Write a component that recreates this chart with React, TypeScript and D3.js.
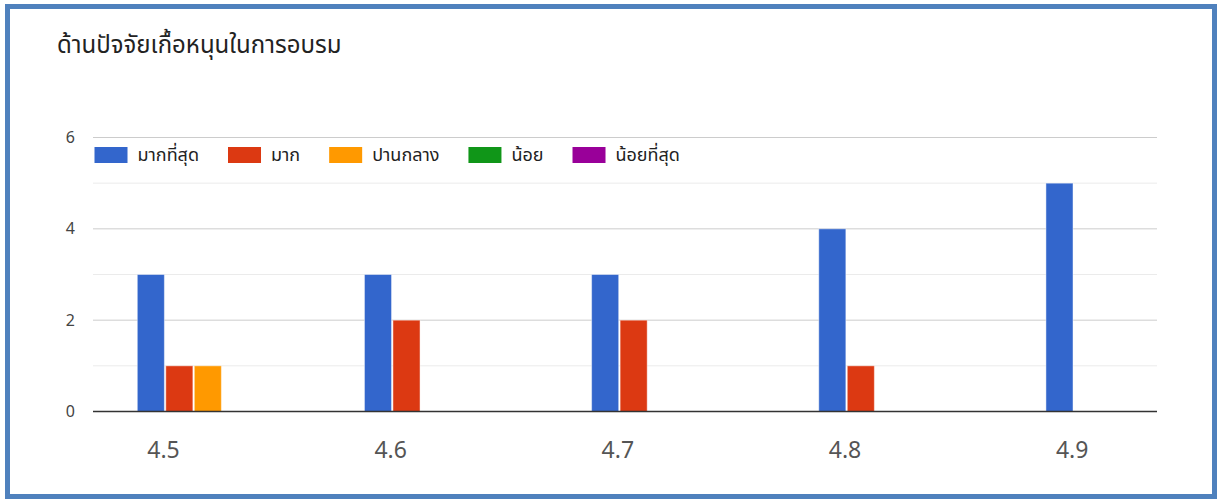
import React, { useMemo } from "react";
import * as d3 from "d3";

const WIDTH = 1217;
const HEIGHT = 499;

const TITLE = "ด้านปัจจัยเกื้อหนุนในการอบรม";
const categories = ["4.5", "4.6", "4.7", "4.8", "4.9"];
const seriesNames = ["มากที่สุด", "มาก", "ปานกลาง", "น้อย", "น้อยที่สุด"];
const seriesColors = ["#3366cc", "#dc3912", "#ff9900", "#109618", "#990099"];

// counts per series, one number per category
const mostValues = [3, 3, 3, 4, 5];
const muchValues = [1, 2, 2, 1, 0];
const mediumValues = [1, 0, 0, 0, 0];
const littleValues = [0, 0, 0, 0, 0];
const leastValues = [0, 0, 0, 0, 0];
const seriesValues = [mostValues, muchValues, mediumValues, littleValues, leastValues];

const majorTicks = [0, 2, 4, 6];
const minorTicks = [1, 3, 5];

const PLOT = { left: 93, right: 1157, top: 137.5, bottom: 411.5 };
const THAI_FONT = "'Noto Sans Thai', Tahoma, 'DejaVu Sans', sans-serif";
const NUM_FONT = "'Noto Sans', 'Open Sans', sans-serif";
const LEGEND_SIZE = 18;

const measure = (text: string, font: string) => {
  const ctx = document.createElement("canvas").getContext("2d");
  if (!ctx) return text.length * 8;
  ctx.font = font;
  return ctx.measureText(text).width;
};

const App = () => {
  const yScale = useMemo(
    () => d3.scaleLinear().domain([0, 6]).range([PLOT.bottom, PLOT.top]),
    []
  );

  // groups don't sit evenly inside the plot in the original, so range is set from the bars
  const xScale = useMemo(
    () =>
      d3
        .scaleBand()
        .domain(categories)
        .range([137.3, 1187])
        .paddingInner(0.379)
        .paddingOuter(0),
    []
  );

  const subScale = useMemo(
    () =>
      d3
        .scaleBand()
        .domain(seriesNames)
        .range([0, xScale.bandwidth()])
        .paddingInner(0.05),
    [xScale]
  );

  // legend layout from text widths
  const legendItems = useMemo(() => {
    let x = 94.5;
    return seriesNames.map((name, i) => {
      const w = measure(name, `${LEGEND_SIZE}px ${THAI_FONT}`);
      const item = { name, color: seriesColors[i], x, textX: x + 43 };
      x = x + 43 + w + 29;
      return item;
    });
  }, []);

  const bars = seriesValues.flatMap((vals, s) =>
    vals.map((v, c) => {
      if (v === 0) return null;
      const x = (xScale(categories[c]) ?? 0) + (subScale(seriesNames[s]) ?? 0);
      return (
        <rect
          key={`${s}-${c}`}
          x={x}
          y={yScale(v)}
          width={subScale.bandwidth()}
          height={yScale(0) - yScale(v)}
          fill={seriesColors[s]}
          stroke="#ffffff"
          strokeOpacity={0.45}
          strokeWidth={1}
        />
      );
    })
  );

  return (
    <svg
      width={WIDTH}
      height={HEIGHT}
      style={{ position: "absolute", left: 0, top: 0, background: "#fff" }}
    >
      <rect x={0} y={0} width={WIDTH} height={HEIGHT} fill="#fff" />
      <rect
        x={7.5}
        y={6.5}
        width={1207}
        height={490}
        fill="none"
        stroke="#4f81bd"
        strokeWidth={5}
      />

      <text x={57} y={53} fontFamily={THAI_FONT} fontSize={24} fill="#222">
        {TITLE}
      </text>

      {minorTicks.map((t) => (
        <line
          key={`m${t}`}
          x1={PLOT.left}
          x2={PLOT.right}
          y1={yScale(t)}
          y2={yScale(t)}
          stroke="#ebebeb"
        />
      ))}
      {majorTicks.slice(1).map((t) => (
        <line
          key={`g${t}`}
          x1={PLOT.left}
          x2={PLOT.right}
          y1={yScale(t)}
          y2={yScale(t)}
          stroke="#cccccc"
        />
      ))}
      {majorTicks.map((t) => (
        <text
          key={`t${t}`}
          x={75}
          y={yScale(t)}
          dy="0.35em"
          textAnchor="end"
          fontFamily={NUM_FONT}
          fontSize={16}
          fill="#444"
        >
          {t}
        </text>
      ))}

      {bars}

      <line
        x1={PLOT.left}
        x2={PLOT.right}
        y1={yScale(0)}
        y2={yScale(0)}
        stroke="#333"
        strokeWidth={1.3}
      />

      {categories.map((c) => (
        <text
          key={c}
          x={(xScale(c) ?? 0) + subScale.step() * 0.5 + 12}
          y={458}
          textAnchor="middle"
          fontFamily={NUM_FONT}
          fontSize={23}
          fill="#555"
        >
          {c}
        </text>
      ))}

      {legendItems.map((d) => (
        <g key={d.name}>
          <rect x={d.x} y={147} width={33} height={16} fill={d.color} />
          <text
            x={d.textX}
            y={155}
            dy="0.35em"
            fontFamily={THAI_FONT}
            fontSize={LEGEND_SIZE}
            fill="#222"
          >
            {d.name}
          </text>
        </g>
      ))}
    </svg>
  );
};

export default App;
